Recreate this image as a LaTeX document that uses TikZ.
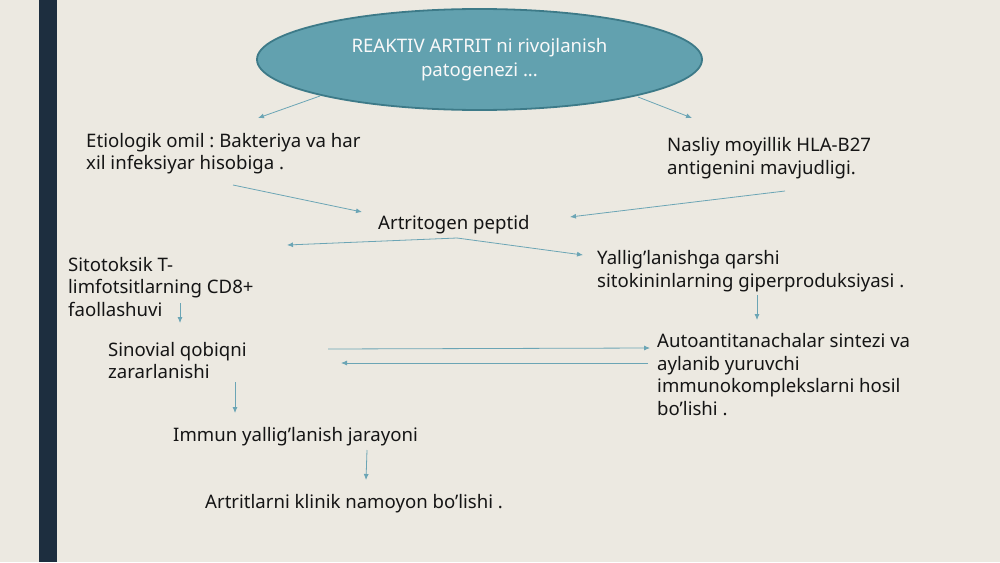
\documentclass[tikz,border=0pt]{standalone}
\usepackage{fontspec}
\setmainfont{Noto Sans}
\usetikzlibrary{shapes.geometric,arrows.meta}
\definecolor{bgbeige}{HTML}{ECE9E1}
\definecolor{bandnavy}{HTML}{1D2E3F}
\definecolor{ellfill}{HTML}{62A1AF}
\definecolor{elldraw}{HTML}{3D7A88}
\definecolor{arrcol}{HTML}{6BA5B5}
\definecolor{txtcol}{HTML}{151515}
\frenchspacing
\begin{document}
\begin{tikzpicture}[x=1pt,y=-1pt,
  txt/.style={anchor=north west,inner sep=0pt,align=left,text=txtcol,font=\fontsize{18.6}{22.5}\selectfont},
  conn/.style={draw=arrcol,line width=0.8pt,-{Latex[length=6pt,width=5pt]}}]
\useasboundingbox (0,0) rectangle (1000,562);
\fill[bgbeige] (0,0) rectangle (1000,562);
\fill[bandnavy] (39,0) rectangle (57,562);

\node[ellipse,fill=ellfill,draw=elldraw,line width=1.8pt,minimum width=445pt,minimum height=101pt,inner sep=0pt,
  text=white!95!gray,align=center,font=\fontsize{18.6}{23.5}\selectfont] (title) at (479.5,59.5) {REAKTIV ARTRIT ni rivojlanish\\patogenezi ...};

\node[txt] (etio) at (86,133) {Etiologik omil : Bakteriya va har\\xil infeksiyar hisobiga .};
\node[txt] (nasl) at (667,137.5) {Nasliy moyillik HLA-B27\\antigenini mavjudligi.};
\node[txt] (artr) at (378,215.5) {Artritogen peptid};
\node[txt] (yall) at (597,250.5) {Yallig’lanishga qarshi\\sitokininlarning giperproduksiyasi .};
\node[txt] (sito) at (68,257) {Sitotoksik T-\\limfotsitlarning CD8+\\faollashuvi};
\node[txt] (sino) at (108,342) {Sinovial qobiqni\\zararlanishi};
\node[txt] (auto) at (657,333.5) {Autoantitanachalar sintezi va\\aylanib yuruvchi\\immunokomplekslarni hosil\\bo’lishi .};
\node[txt] (immu) at (173,427.5) {Immun yallig’lanish jarayoni};
\node[txt] (klin) at (205,494.5) {Artritlarni klinik namoyon bo’lishi .};

% connector end points
\coordinate (t1s) at (320,96);  \coordinate (t1e) at (258,118);
\coordinate (t2s) at (638,97);  \coordinate (t2e) at (692,118);
\coordinate (e1s) at (233,185); \coordinate (e1e) at (362,212);
\coordinate (n1s) at (785,191); \coordinate (n1e) at (570,217);
\coordinate (apex) at (457,238);
\coordinate (a1e) at (287,245); \coordinate (a2e) at (583,255);
\coordinate (s1s) at (180,303); \coordinate (s1e) at (180,323);
\coordinate (y1s) at (757,295); \coordinate (y1e) at (757,320);
\coordinate (sa1s) at (328,349); \coordinate (sa1e) at (650,348);
\coordinate (as1s) at (648,363); \coordinate (as1e) at (341,363);
\coordinate (si1s) at (235,382); \coordinate (si1e) at (235,413);
\coordinate (im1s) at (367,450); \coordinate (im1e) at (366,480);

\draw[conn] (t1s) -- (t1e);
\draw[conn] (t2s) -- (t2e);
\draw[conn] (e1s) -- (e1e);
\draw[conn] (n1s) -- (n1e);
\draw[conn] (apex) -- (a1e);
\draw[conn] (apex) -- (a2e);
\draw[conn] (s1s) -- (s1e);
\draw[conn] (y1s) -- (y1e);
\draw[conn] (sa1s) -- (sa1e);
\draw[conn] (as1s) -- (as1e);
\draw[conn] (si1s) -- (si1e);
\draw[conn] (im1s) -- (im1e);
\end{tikzpicture}
\end{document}
